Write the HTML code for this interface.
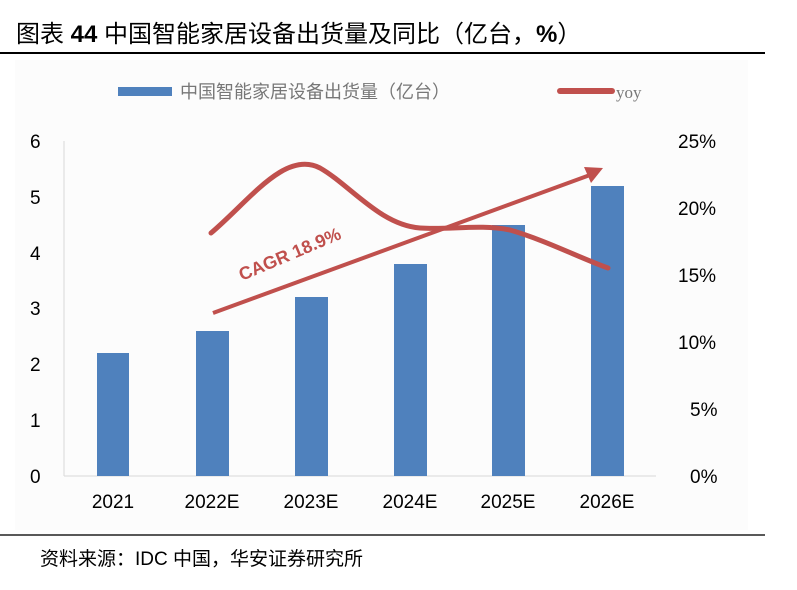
<!DOCTYPE html>
<html><head><meta charset="utf-8"><style>
body{margin:0;background:#fff;width:797px;height:585px;overflow:hidden;font-family:"Liberation Sans","Noto Sans CJK SC",sans-serif;}
</style></head><body>
<svg width="797" height="585" xmlns="http://www.w3.org/2000/svg" font-family="Liberation Sans, Noto Sans CJK SC, sans-serif">
<text x="16" y="42" font-size="24" fill="#000">图表 <tspan font-weight="bold">44</tspan> 中国智能家居设备出货量及同比（亿台，<tspan font-weight="bold">%</tspan>）</text>
<rect x="0" y="52" width="765" height="2" fill="#000"/>
<rect x="15" y="60" width="733" height="470" fill="#fcfcfc"/>
<rect x="118" y="87" width="54" height="9" fill="#4f81bd"/>
<text x="180" y="98" font-size="18" fill="#777">中国智能家居设备出货量（亿台）</text>
<line x1="560" y1="91" x2="612" y2="91" stroke="#c0504d" stroke-width="6" stroke-linecap="round"/>
<text x="616" y="98" font-size="17" fill="#777" font-family="Liberation Serif, serif">yoy</text>
<g font-size="19" fill="#000">
<text x="30" y="148">6</text><text x="30" y="204">5</text><text x="30" y="260">4</text><text x="30" y="315">3</text><text x="30" y="371">2</text><text x="30" y="427">1</text><text x="30" y="483">0</text>
<text x="678" y="148">25%</text><text x="678" y="215">20%</text><text x="678" y="282">15%</text><text x="678" y="349">10%</text><text x="690" y="416">5%</text><text x="690" y="483">0%</text>
</g>
<line x1="64" y1="141" x2="64" y2="476" stroke="#d9d9d9"/>
<line x1="64" y1="476" x2="656" y2="476" stroke="#d9d9d9"/>
<g fill="#4f81bd">
<rect x="97" y="353" width="32" height="123"/>
<rect x="196" y="331" width="33" height="145"/>
<rect x="295" y="297" width="33" height="179"/>
<rect x="394" y="264" width="33" height="212"/>
<rect x="492" y="225" width="33" height="251"/>
<rect x="591" y="186" width="33" height="290"/>
</g>
<g font-size="19" fill="#000" text-anchor="middle">
<text x="113" y="508">2021</text><text x="212" y="508">2022E</text><text x="311" y="508">2023E</text><text x="410" y="508">2024E</text><text x="508" y="508">2025E</text><text x="607" y="508">2026E</text>
</g>
<path d="M211,233 C250,200 285,150 320,168 C350,185 380,225 420,228 C450,230 480,224 510,230 C545,240 580,258 608,268" fill="none" stroke="#c0504d" stroke-width="5" stroke-linecap="round"/>
<line x1="213" y1="313" x2="590" y2="175" stroke="#c0504d" stroke-width="4"/>
<polygon points="603,168 584,167 591,183" fill="#c0504d"/>
<text x="0" y="0" font-size="18" font-weight="bold" fill="#c0504d" transform="translate(242,281) rotate(-23)">CAGR 18.9%</text>
<line x1="0" y1="535" x2="765" y2="535" stroke="#222" stroke-width="1.5"/>
<text x="40" y="565" font-size="19" fill="#000">资料来源：IDC 中国，华安证券研究所</text>
</svg>
</body></html>
